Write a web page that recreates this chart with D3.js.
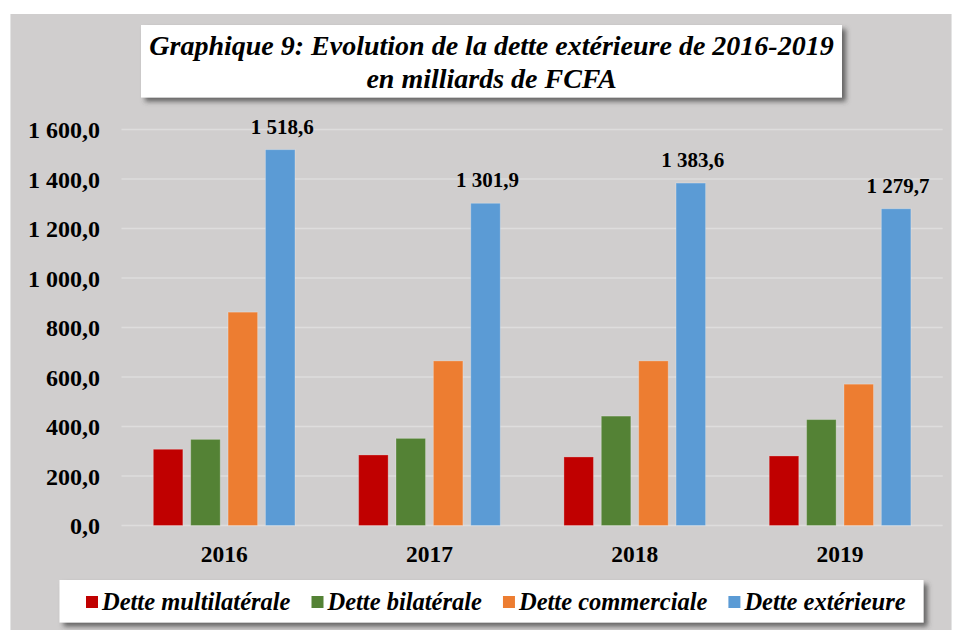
<!DOCTYPE html>
<html>
<head>
<meta charset="utf-8">
<script src="https://cdn.jsdelivr.net/npm/d3@7"></script>
<style>
  body { margin: 0; background: #ffffff; }
  text { font-family: "Liberation Serif", "Times New Roman", serif; fill: #000; }
</style>
</head>
<body>
<div id="wrapper"></div>
<script>
// data
const years = ["2016", "2017", "2018", "2019"];
const seriesNames = ["Dette multilatérale", "Dette bilatérale", "Dette commerciale", "Dette extérieure"];
const multilaterale = [308.0, 285.0, 277.0, 281.0];
const bilaterale = [348.0, 352.0, 442.0, 428.0];
const commerciale = [862.0, 665.0, 665.0, 571.0];
const exterieure = [1518.6, 1301.9, 1383.6, 1279.7];
const yTicks = [0, 200, 400, 600, 800, 1000, 1200, 1400, 1600];
const colors = ["#c00000", "#548235", "#ed7d31", "#5b9bd5"];

const W = 956, H = 630;
const margin = {top: 129.5, right: 13.3, bottom: 104.5, left: 121.5};
const width = W - margin.left - margin.right,
      height = H - margin.top - margin.bottom;

const fr = d3.formatLocale({decimal: ",", thousands: " ", grouping: [3], currency: ["", ""]});
const fmt = fr.format(",.1f");

const allSeries = [multilaterale, bilaterale, commerciale, exterieure];
const table = years.map((y, i) => {
  const row = {year: y};
  seriesNames.forEach((s, j) => row[s] = allSeries[j][i]);
  return row;
});

const svg = d3.select("#wrapper").append("svg")
  .attr("width", W).attr("height", H);

// drop shadow for title and legend boxes
const defs = svg.append("defs");
const f = defs.append("filter").attr("id", "shadow")
  .attr("x", "-5%").attr("y", "-20%").attr("width", "115%").attr("height", "160%");
f.append("feDropShadow").attr("dx", 4).attr("dy", 4).attr("stdDeviation", 2.5)
  .attr("flood-color", "#404040").attr("flood-opacity", 0.75);

// grey chart area
svg.append("rect").attr("x", 10).attr("y", 14).attr("width", 942).attr("height", 620)
  .attr("fill", "#e4e4e4");
svg.append("rect").attr("x", 11).attr("y", 14).attr("width", 940).attr("height", 620)
  .attr("fill", "#d0cece");

const bounds = svg.append("g")
  .attr("transform", "translate(" + margin.left + "," + margin.top + ")");

const x0 = d3.scaleBand().domain(years).range([0, width]).paddingInner(0.31).paddingOuter(0.155);
const x1 = d3.scaleBand().domain(seriesNames).range([0, x0.bandwidth()]).paddingInner(0.21);
const y = d3.scaleLinear().domain([0, 1600]).range([height, 0]);

// gridlines
bounds.append("g").attr("class", "grid")
  .selectAll("line").data(yTicks).enter().append("line")
  .attr("x1", 0).attr("x2", width)
  .attr("y1", d => y(d)).attr("y2", d => y(d))
  .attr("stroke", "#dedddd").attr("stroke-width", 1.6);

// y axis
const yAxis = d3.axisLeft(y).tickValues(yTicks).tickFormat(fmt).tickSize(0).tickPadding(21.5);
const yG = bounds.append("g").call(yAxis);
yG.select(".domain").remove();
yG.selectAll("text")
  .style("font-family", "Liberation Serif, serif")
  .style("font-weight", "bold").style("font-size", "24px").attr("dy", "0.34em");

// x axis
const xAxis = d3.axisBottom(x0).tickSize(0).tickPadding(20);
const xG = bounds.append("g").attr("transform", "translate(0," + height + ")").call(xAxis);
xG.select(".domain").remove();
xG.selectAll("text")
  .style("font-family", "Liberation Serif, serif")
  .style("font-weight", "bold").style("font-size", "23.5px");

// bars
const groups = bounds.selectAll(".g-year").data(table).enter().append("g")
  .attr("class", "g-year")
  .attr("transform", d => "translate(" + x0(d.year) + ",0)");

groups.selectAll("rect")
  .data(d => seriesNames.map((s, j) => ({key: s, value: d[s], c: colors[j]})))
  .enter().append("rect")
  .attr("x", d => x1(d.key))
  .attr("y", d => y(d.value))
  .attr("width", x1.bandwidth())
  .attr("height", d => y(0) - y(d.value))
  .attr("fill", d => d.c)
  .attr("stroke", "#ffffff").attr("stroke-opacity", 0.25).attr("stroke-width", 1);

// labels on total bars
groups.append("text")
  .attr("x", x1(seriesNames[3]) + x1.bandwidth() / 2 + 2)
  .attr("y", d => y(d[seriesNames[3]]) - 16)
  .attr("text-anchor", "middle")
  .style("font-weight", "bold").style("font-size", "21px")
  .text(d => fmt(d[seriesNames[3]]));

// title box
svg.append("rect").attr("x", 141).attr("y", 25).attr("width", 701).attr("height", 72.5)
  .attr("fill", "#ffffff").attr("filter", "url(#shadow)");
const title = svg.append("text").attr("text-anchor", "middle")
  .style("font-weight", "bold").style("font-style", "italic").style("font-size", "28px");
title.append("tspan").attr("x", 491.5).attr("y", 55)
  .text("Graphique 9: Evolution de la dette extérieure de 2016-2019");
title.append("tspan").attr("x", 491.5).attr("y", 88)
  .text("en milliards de FCFA");

// legend box
svg.append("rect").attr("x", 59.5).attr("y", 580).attr("width", 864).attr("height", 42.5)
  .attr("fill", "#ffffff").attr("filter", "url(#shadow)");
const legend = svg.append("g").attr("transform", "translate(86,0)");
let lx = 0;
seriesNames.forEach((s, j) => {
  const item = legend.append("g").attr("transform", "translate(" + lx + ",0)");
  item.append("rect").attr("x", 0).attr("y", 596).attr("width", 12).attr("height", 12)
    .attr("fill", colors[j]);
  const t = item.append("text").attr("x", 16).attr("y", 609.5)
    .style("font-weight", "bold").style("font-style", "italic").style("font-size", "24.5px")
    .text(s);
  lx += 16 + t.node().getComputedTextLength() + 21;
});
</script>
</body>
</html>
